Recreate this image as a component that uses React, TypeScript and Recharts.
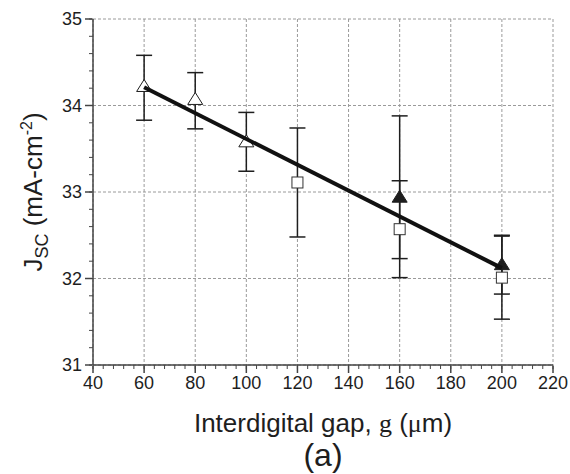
import React from 'react';
import { ComposedChart, Scatter, XAxis, YAxis, CartesianGrid, ErrorBar, Label } from 'recharts';

// interdigital gap (um) and Jsc (mA/cm2)
const openTriGap = [60, 80, 100];
const openTriJsc = [34.22, 34.07, 33.58];
const openTriLow = [33.83, 33.73, 33.24];
const openTriHigh = [34.58, 34.38, 33.92];

const openSqGap = [120, 160, 200];
const openSqJsc = [33.11, 32.57, 32.01];
const openSqLow = [32.48, 32.01, 31.53];
const openSqHigh = [33.74, 33.13, 32.49];

const filledTriGap = [160, 200];
const filledTriJsc = [32.94, 32.16];
const filledTriLow = [32.23, 31.82];
const filledTriHigh = [33.88, 32.5];

const fitGap = [60, 200];
const fitJsc = [34.21, 32.12];

const xTicks = [40, 60, 80, 100, 120, 140, 160, 180, 200, 220];
const yTicks = [31, 32, 33, 34, 35];
const xMinor = Array.from({ length: 46 }, (_, i) => 40 + i * 4);
const yMinor = Array.from({ length: 21 }, (_, i) => Math.round((31 + i * 0.2) * 10) / 10);

const build = (xs: number[], ys: number[], lo?: number[], hi?: number[]) =>
  xs.map((x, i) => ({
    x,
    y: ys[i],
    err: lo && hi ? [ys[i] - lo[i], hi[i] - ys[i]] : undefined,
  }));

const openTri = build(openTriGap, openTriJsc, openTriLow, openTriHigh);
const openSq = build(openSqGap, openSqJsc, openSqLow, openSqHigh);
const filledTri = build(filledTriGap, filledTriJsc, filledTriLow, filledTriHigh);
const fit = build(fitGap, fitJsc);

const ink = '#1e1e1e';
const axisInk = '#444';
const sans = '"Liberation Sans", Arial, sans-serif';
const serif = '"Liberation Serif", "Times New Roman", serif';

const Triangle = (filled: boolean) => (props: any) => {
  const { cx, cy } = props;
  return (
    <polygon
      points={`${cx},${cy - 7} ${cx - 7.5},${cy + 5} ${cx + 7.5},${cy + 5}`}
      fill={filled ? ink : '#fff'}
      stroke={ink}
      strokeWidth={1}
    />
  );
};

const Square = (props: any) => {
  const { cx, cy } = props;
  return <rect x={cx - 5.5} y={cy - 5.5} width={11} height={11} fill="#fff" stroke="#333" strokeWidth={1} />;
};

const XTitle = (props: any) => {
  const { x, y, width } = props.viewBox;
  const cx = x + width / 2;
  return (
    <g fill={ink}>
      <text x={cx} y={y + 66} textAnchor="middle" fontFamily={sans} fontSize={26}>
        Interdigital gap, <tspan fontFamily={serif}>g</tspan> (<tspan fontFamily={serif}>μ</tspan>m)
      </text>
      <text x={cx} y={y + 100} textAnchor="middle" fontFamily={sans} fontSize={32}>
        (a)
      </text>
    </g>
  );
};

const YTitle = (props: any) => {
  const { y, height } = props.viewBox;
  const cy = y + height / 2;
  const cx = 42;
  return (
    <text
      x={cx}
      y={cy}
      transform={`rotate(-90 ${cx} ${cy})`}
      textAnchor="middle"
      fontFamily={sans}
      fontSize={26}
      fill={ink}
    >
      J<tspan fontSize={18} dy={6}>SC</tspan>
      <tspan dy={-6}> (mA-cm</tspan>
      <tspan fontSize={16} dy={-10}>-2</tspan>
      <tspan dy={10}>)</tspan>
    </text>
  );
};

const tickStyle = { fontSize: 18, fill: ink, fontFamily: sans };
const noLabel = () => <g />;

export default function App() {
  return (
    <div style={{ position: 'absolute', left: 0, top: 0 }}>
      <ComposedChart width={570} height={474} margin={{ top: 19, right: 17, left: 0, bottom: 69 }}>
        <CartesianGrid xAxisId="major" yAxisId="major" stroke="#9a9a9a" strokeDasharray="3 2" />
        {/* inner thin axes: axis lines and minor ticks */}
        <XAxis
          dataKey="x"
          type="number"
          domain={[40, 220]}
          ticks={xMinor}
          interval={0}
          tick={noLabel}
          tickSize={4}
          axisLine={{ stroke: axisInk, strokeWidth: 1.5 }}
          tickLine={{ stroke: axisInk }}
          height={1}
          allowDataOverflow
        />
        <YAxis
          dataKey="y"
          type="number"
          domain={[31, 35]}
          ticks={yMinor}
          interval={0}
          tick={noLabel}
          tickSize={4}
          axisLine={{ stroke: axisInk, strokeWidth: 1.5 }}
          tickLine={{ stroke: axisInk }}
          width={1}
          allowDataOverflow
        />
        {/* outer axes: major ticks and labels */}
        <XAxis
          xAxisId="major"
          dataKey="x"
          type="number"
          domain={[40, 220]}
          ticks={xTicks}
          interval={0}
          tick={tickStyle}
          tickSize={7}
          tickMargin={3}
          axisLine={false}
          tickLine={{ stroke: axisInk, strokeWidth: 1.5 }}
          height={39}
          allowDataOverflow
        >
          <Label content={<XTitle />} />
        </XAxis>
        <YAxis
          yAxisId="major"
          dataKey="y"
          type="number"
          domain={[31, 35]}
          ticks={yTicks}
          interval={0}
          tick={tickStyle}
          tickSize={7}
          tickMargin={3}
          axisLine={false}
          tickLine={{ stroke: axisInk, strokeWidth: 1.5 }}
          width={92}
          allowDataOverflow
        >
          <Label content={<YTitle />} />
        </YAxis>
        <Scatter data={openSq} shape={Square} isAnimationActive={false}>
          <ErrorBar dataKey="err" direction="y" width={8} stroke={ink} strokeWidth={1.5} />
        </Scatter>
        <Scatter data={filledTri} shape={Triangle(true)} isAnimationActive={false}>
          <ErrorBar dataKey="err" direction="y" width={8} stroke={ink} strokeWidth={1.5} />
        </Scatter>
        <Scatter data={openTri} shape={Triangle(false)} isAnimationActive={false}>
          <ErrorBar dataKey="err" direction="y" width={8} stroke={ink} strokeWidth={1.5} />
        </Scatter>
        <Scatter
          xAxisId="major"
          yAxisId="major"
          data={fit}
          line={{ stroke: '#111', strokeWidth: 4 }}
          shape={() => <g />}
          isAnimationActive={false}
        />
      </ComposedChart>
    </div>
  );
}
